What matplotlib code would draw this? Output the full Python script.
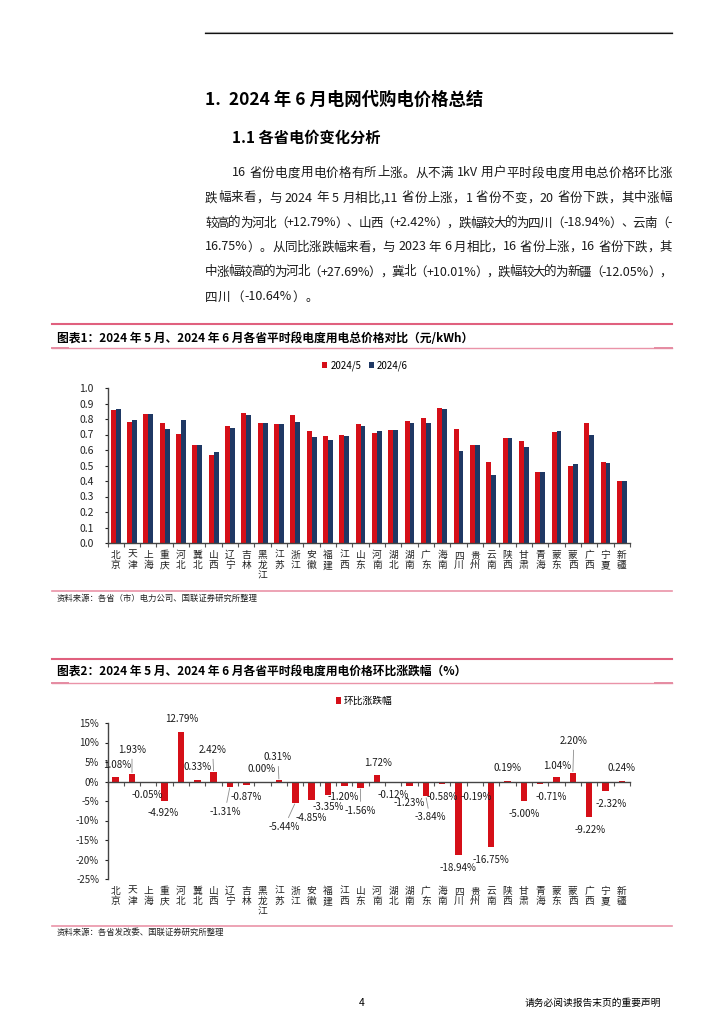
import matplotlib
matplotlib.use("Agg")
import matplotlib.pyplot as plt
import numpy as np
from matplotlib.lines import Line2D
from matplotlib.ticker import FixedLocator, FuncFormatter, NullLocator

plt.rcParams["font.family"] = ["Noto Sans CJK SC", "DejaVu Sans"]
plt.rcParams["axes.unicode_minus"] = False

provinces = ["北京", "天津", "上海", "重庆", "河北", "冀北", "山西", "辽宁", "吉林", "黑龙江",
             "江苏", "浙江", "安徽", "福建", "江西", "山东", "河南", "湖北", "湖南", "广东",
             "海南", "四川", "贵州", "云南", "陕西", "甘肃", "青海", "蒙东", "蒙西", "广西",
             "宁夏", "新疆"]

# 元/kWh
price_may = [0.858, 0.779, 0.831, 0.772, 0.705, 0.633, 0.570, 0.755, 0.836, 0.775,
             0.766, 0.824, 0.722, 0.688, 0.696, 0.768, 0.710, 0.729, 0.787, 0.808,
             0.872, 0.735, 0.635, 0.525, 0.675, 0.655, 0.460, 0.715, 0.498, 0.771,
             0.525, 0.397]
price_jun = [0.867, 0.794, 0.831, 0.734, 0.795, 0.635, 0.584, 0.745, 0.829, 0.775,
             0.768, 0.779, 0.687, 0.665, 0.688, 0.756, 0.722, 0.728, 0.777, 0.777,
             0.867, 0.596, 0.634, 0.437, 0.676, 0.622, 0.457, 0.722, 0.509, 0.700,
             0.513, 0.398]

# 环比涨跌幅 (%)
mom_change = [1.08, 1.93, -0.05, -4.92, 12.79, 0.33, 2.42, -1.31, -0.87, 0.00,
              0.31, -5.44, -4.85, -3.35, -1.20, -1.56, 1.72, -0.12, -1.23, -3.84,
              -0.58, -18.94, -0.19, -16.75, 0.19, -5.00, -0.71, 1.04, 2.20, -9.22,
              -2.32, 0.24]

# label placement (pixels from bar end) and which labels get a leader line
label_offsets = [(1, 12), (0, 24), (-1, -13), (-1, -12), (1, 13), (0, 13), (-1, 22), (-5, -25),
                 (0, -12), (-1, 12), (-1, 23), (-11, -24), (0, -18), (0, -12), (-1, -11), (0, -23),
                 (1, 12), (0, -13), (0, -17), (4, -21), (0, -13), (-1, -13), (1, -15), (0, -13),
                 (0, 13), (0, -13), (11, -13), (1, 11), (1, 32), (1, -13), (6, -13), (0, 13)]
with_leader = {1, 6, 7, 10, 11, 15, 19, 28}

RED = "#D50F18"
NAVY = "#1F3864"
W, H = 724, 1024


def fx(x):
    return x / W


def fy(y):
    return 1 - y / H


def hline(fig, x0, x1, y, color, lw):
    fig.add_artist(Line2D([fx(x0), fx(x1)], [fy(y), fy(y)], color=color, lw=lw,
                          transform=fig.transFigure))


def justified(fig, line, x0, x1, y, size, justify=True):
    # split into tokens: CJK chars one by one, ascii runs together
    tokens = []
    space = False
    for ch in line:
        if ch == " ":
            space = True
            continue
        if ch.isascii() and tokens and tokens[-1][0][-1].isascii() and not space:
            tokens[-1][0] += ch
        else:
            tokens.append([ch, space])
        space = False
    r = fig.canvas.get_renderer()
    arts = [fig.text(0, fy(y), t[0], fontsize=size, va="center", ha="left", color="#1a1a1a")
            for t in tokens]
    widths = [a.get_window_extent(r).width for a in arts]
    sp = 3.0
    total = sum(widths) + sp * sum(1 for t in tokens if t[1])
    gap = (x1 - x0 - total) / (len(tokens) - 1) if justify else 0.6
    pos = x0
    for a, w, t in zip(arts, widths, tokens):
        if t[1]:
            pos += sp
        a.set_x(fx(pos))
        pos += w + gap


fig = plt.figure(figsize=(7.24, 10.24), dpi=100)

# page header
hline(fig, 205, 672, 31.6, "#b0b0b0", 0.8)
hline(fig, 205, 672, 32.6, "#111111", 0.9)
fig.text(fx(205), fy(100), "1.  2024 年 6 月电网代购电价格总结", fontsize=12.5,
         fontweight="bold", va="center")
fig.text(fx(232), fy(138), "1.1 各省电价变化分析", fontsize=11, fontweight="bold", va="center")

body = [
    "16 省份电度用电价格有所上涨。从不满 1kV 用户平时段电度用电总价格环比涨",
    "跌幅来看，与 2024 年 5 月相比,11 省份上涨，1 省份不变，20 省份下跌，其中涨幅",
    "较高的为河北（+12.79%）、山西（+2.42%），跌幅较大的为四川（-18.94%）、云南（-",
    "16.75%）。从同比涨跌幅来看，与 2023 年 6 月相比，16 省份上涨，16 省份下跌，其",
    "中涨幅较高的为河北（+27.69%），冀北（+10.01%），跌幅较大的为新疆（-12.05%），",
    "四川（-10.64%）。",
]
body_y = [173, 198, 223, 247, 272, 297]
for k, (line, y) in enumerate(zip(body, body_y)):
    x0 = 232 if k == 0 else 205
    justified(fig, line, x0, 672, y, 9, justify=(k < len(body) - 1))


def title_box(fig, y_top, y_title, y_bot, text):
    hline(fig, 52, 672, y_top, "#E0607E", 1.5)
    fig.text(fx(57), fy(y_title), text, fontsize=8.5, fontweight="bold", va="center")
    hline(fig, 52, 672, y_bot, "#EA93A8", 1.0)
    hline(fig, 52, 68, y_bot + 0.4, "#E58CA2", 1.4)
    hline(fig, 655, 672, y_bot + 0.4, "#E58CA2", 1.4)


x = np.arange(len(provinces))
vert_labels = ["\n".join(p) for p in provinces]

# ---------- chart 1 ----------
title_box(fig, 324, 338, 348, "图表1：2024 年 5 月、2024 年 6 月各省平时段电度用电总价格对比（元/kWh）")
ax1 = fig.add_axes([fx(107.5), fy(543), (630 - 107.5) / W, 155 / H])
ax1.bar(x - 0.15, price_may, 0.3, color=RED, label="2024/5")
ax1.bar(x + 0.15, price_jun, 0.3, color=NAVY, label="2024/6")
ax1.set_xlim(-0.5, len(provinces) - 0.5)
ax1.set_ylim(0, 1.0)
ax1.set_yticks(np.arange(0, 1.01, 0.1))
ax1.yaxis.set_major_formatter(FuncFormatter(lambda v, p: f"{v:.1f}"))
ax1.set_xticks(x)
ax1.set_xticklabels(vert_labels, linespacing=1.05)
ax1.xaxis.set_minor_locator(FixedLocator(np.arange(-0.5, len(provinces), 1.0)))
ax1.tick_params(axis="x", which="major", length=0, pad=5, labelsize=7, colors="#222222")
ax1.tick_params(axis="x", which="minor", length=3, width=0.8, colors="#555555")
ax1.tick_params(axis="y", length=2, pad=8, labelsize=7.5, colors="#222222")
for s in ["top", "right"]:
    ax1.spines[s].set_visible(False)
for s in ["left", "bottom"]:
    ax1.spines[s].set_color("#444444")
    ax1.spines[s].set_linewidth(1.0)
ax1.legend(loc="center", bbox_to_anchor=(fx(365), fy(366)), bbox_transform=fig.transFigure,
           ncol=2, frameon=False, fontsize=7, handlelength=0.5, handleheight=0.6,
           handletextpad=0.3, columnspacing=0.8)
hline(fig, 52, 672, 591, "#EA93A8", 1.2)
fig.text(fx(57), fy(598), "资料来源：各省（市）电力公司、国联证券研究所整理", fontsize=6,
         va="center", color="#222222")

# ---------- chart 2 ----------
title_box(fig, 659, 672, 683, "图表2：2024 年 5 月、2024 年 6 月各省平时段电度用电价格环比涨跌幅（%）")
ax2 = fig.add_axes([fx(107.5), fy(879), (630 - 107.5) / W, 156 / H])
ax2.bar(x, mom_change, 0.4, color=RED, label="环比涨跌幅")
ax2.set_xlim(-0.5, len(provinces) - 0.5)
ax2.set_ylim(-25, 15)
ax2.set_yticks(np.arange(-25, 16, 5))
ax2.yaxis.set_major_formatter(FuncFormatter(lambda v, p: f"{int(v)}%"))
ax2.spines["bottom"].set_position(("data", 0))
ax2.set_xticks(x)
ax2.tick_params(axis="x", which="major", length=0, labelbottom=False)
ax2.xaxis.set_minor_locator(FixedLocator(np.arange(-0.5, len(provinces), 1.0)))
ax2.tick_params(axis="x", which="minor", length=3, width=0.8, colors="#555555")
ax2.tick_params(axis="y", length=2, pad=4, labelsize=7, colors="#222222")
for s in ["top", "right"]:
    ax2.spines[s].set_visible(False)
for s in ["left", "bottom"]:
    ax2.spines[s].set_color("#444444")
    ax2.spines[s].set_linewidth(1.0)

sec = ax2.secondary_xaxis(0.0)
sec.set_xticks(x)
sec.set_xticklabels(vert_labels, linespacing=1.05)
sec.xaxis.set_minor_locator(NullLocator())
sec.tick_params(axis="x", length=0, pad=5, labelsize=7, colors="#222222")
sec.spines["bottom"].set_visible(False)

for i, v in enumerate(mom_change):
    dx, dy = label_offsets[i]
    props = None
    if i in with_leader:
        props = dict(arrowstyle="-", color="#8c8c8c", lw=0.6, shrinkA=1, shrinkB=1)
    ax2.annotate(f"{v:.2f}%", xy=(i, v), xytext=(dx, dy), textcoords="offset pixels",
                 ha="center", va="center", fontsize=7, color="#1a1a1a", arrowprops=props)

ax2.legend(loc="center", bbox_to_anchor=(fx(364), fy(701)), bbox_transform=fig.transFigure,
           frameon=False, fontsize=7, handlelength=0.5, handleheight=0.6, handletextpad=0.3)
hline(fig, 52, 672, 926, "#EA93A8", 1.2)
fig.text(fx(57), fy(932), "资料来源：各省发改委、国联证券研究所整理", fontsize=6,
         va="center", color="#222222")

# footer
fig.text(fx(362), fy(1003), "4", fontsize=7.5, va="center", ha="center")
fig.text(fx(593), fy(1003), "请务必阅读报告末页的重要声明", fontsize=7, va="center", ha="center")

fig.savefig("out.png", dpi=100)
